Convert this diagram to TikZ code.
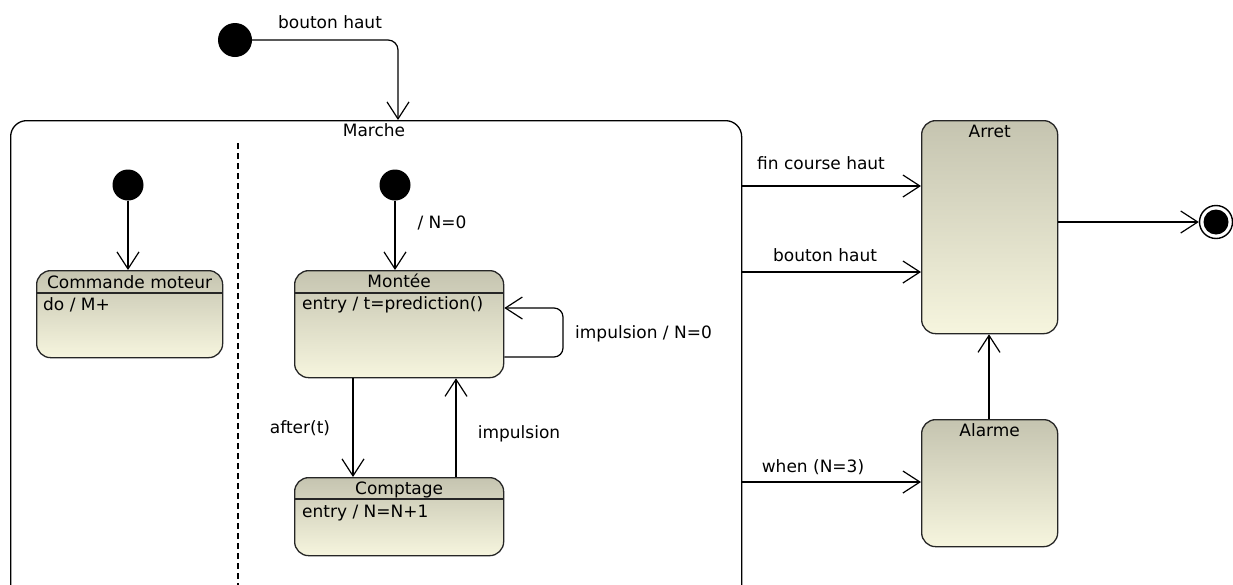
\documentclass[tikz,border=0pt]{standalone}
\usepackage{fontspec}
\setmainfont{DejaVu Sans}
\usetikzlibrary{arrows.meta}
\definecolor{stTop}{RGB}{197,196,176}
\definecolor{stBot}{RGB}{246,245,222}
\tikzset{
  statebox/.style={draw=black!85, line width=1.3pt, rounded corners=14pt, top color=stTop, bottom color=stBot, inner sep=0pt, anchor=north west},
  trans/.style={line width=1.2pt, -{Straight Barb[length=17pt,width=22pt,line width=1.2pt]}},
  initdot/.style={circle, fill=black, inner sep=0pt, minimum size=#1},
  lbl/.style={anchor=base, inner sep=0pt},
  lbll/.style={anchor=base west, inner sep=0pt},
  sepline/.style={line width=1.3pt, draw=black!85},
}
\begin{document}
\begin{tikzpicture}[x=1pt,y=-1pt, font=\fontsize{17}{20}\selectfont]
\useasboundingbox (0,0) rectangle (1233,584);
\clip (0,0) rectangle (1233,584);
\fill[white] (0,0) rectangle (1233,584);
% composite state Marche
\node[draw, line width=1.3pt, rounded corners=16pt, fill=white, minimum width=731pt, minimum height=500pt, anchor=north west, inner sep=0pt] (marche) at (10,120) {};
\node[lbl] (marchelbl) at (374,136) {Marche};
\coordinate (dtop) at (238,143);
\coordinate (dbot) at (238,600);
\draw[line width=1.2pt, dash pattern=on 6pt off 4pt] (dtop) -- (dbot);
% top initial
\node[initdot=34pt] (i0) at (235,40) {};
\coordinate (mtop) at (398,120);
\draw[trans, rounded corners=10pt] (i0) -| (mtop);
\node[lbl] (l0) at (330,28) {bouton haut};
% left region
\node[initdot=31pt] (i1) at (128,185) {};
\node[statebox, minimum width=186pt, minimum height=87pt] (cm) at (36,270) {};
\draw[sepline] (cm.west |- 0,293) -- (cm.east |- 0,293);
\node[lbl] (cmt) at (cm.north |- 0,288) {Commande moteur};
\node[lbll] (cmb) at (43,310) {do / M+};
\draw[trans] (i1) -- (i1 |- cm.north);
% right region
\node[initdot=31pt] (i2) at (395,185) {};
\node[statebox, minimum width=209pt, minimum height=107pt] (mo) at (294,270) {};
\draw[sepline] (mo.west |- 0,293) -- (mo.east |- 0,293);
\node[lbl] (mot) at (mo.north |- 0,287) {Montée};
\node[lbll] (mob) at (302,309) {entry / t=prediction()};
\draw[trans] (i2) -- (i2 |- mo.north);
\node[lbl] (l1) at (442,228) {/ N=0};
% self loop
\coordinate (sl1) at (mo.east |- 0,357);
\coordinate (sl2) at (mo.east |- 0,308);
\coordinate (slc) at (563,330);
\draw[trans, rounded corners=9pt] (sl1) -| (slc) |- (sl2);
\node[lbll] (l2) at (575,338) {impulsion / N=0};
% Comptage
\node[statebox, minimum width=209pt, minimum height=78pt] (co) at (294,477) {};
\draw[sepline] (co.west |- 0,499) -- (co.east |- 0,499);
\node[lbl] (cot) at (co.north |- 0,494) {Comptage};
\node[lbll] (cob) at (302,517) {entry / N=N+1};
\draw[trans] (mo.south -| 353,0) -- (co.north -| 353,0);
\draw[trans] (co.north -| 456,0) -- (mo.south -| 456,0);
\node[lbl] (l3) at (300,433) {after(t)};
\node[lbl] (l4) at (519,438) {impulsion};
% Arret and Alarme
\node[statebox, minimum width=136pt, minimum height=213pt] (ar) at (921,120) {};
\node[lbl] (art) at (ar.north |- 0,137) {Arret};
\node[statebox, minimum width=136pt, minimum height=127pt] (al) at (921,419) {};
\node[lbl] (alt) at (al.north |- 0,436) {Alarme};
\draw[trans] (al.north -| 989,0) -- (ar.south -| 989,0);
% transitions from Marche
\draw[trans] (marche.east |- 0,186) -- (ar.west |- 0,186);
\node[lbl] (l5) at (821,169) {fin course haut};
\draw[trans] (marche.east |- 0,272) -- (ar.west |- 0,272);
\node[lbl] (l6) at (825,261) {bouton haut};
\draw[trans] (marche.east |- 0,482) -- (al.west |- 0,482);
\node[lbl] (l7) at (813,472) {when (N=3)};
% final state
\node[circle, draw, line width=1.4pt, fill=white, minimum size=33pt, inner sep=0pt] (fin) at (1216,222) {};
\node[circle, fill=black, minimum size=25pt, inner sep=0pt] (fini) at (fin) {};
\draw[trans] (ar.east |- fin) -- (fin);
\end{tikzpicture}
\end{document}
